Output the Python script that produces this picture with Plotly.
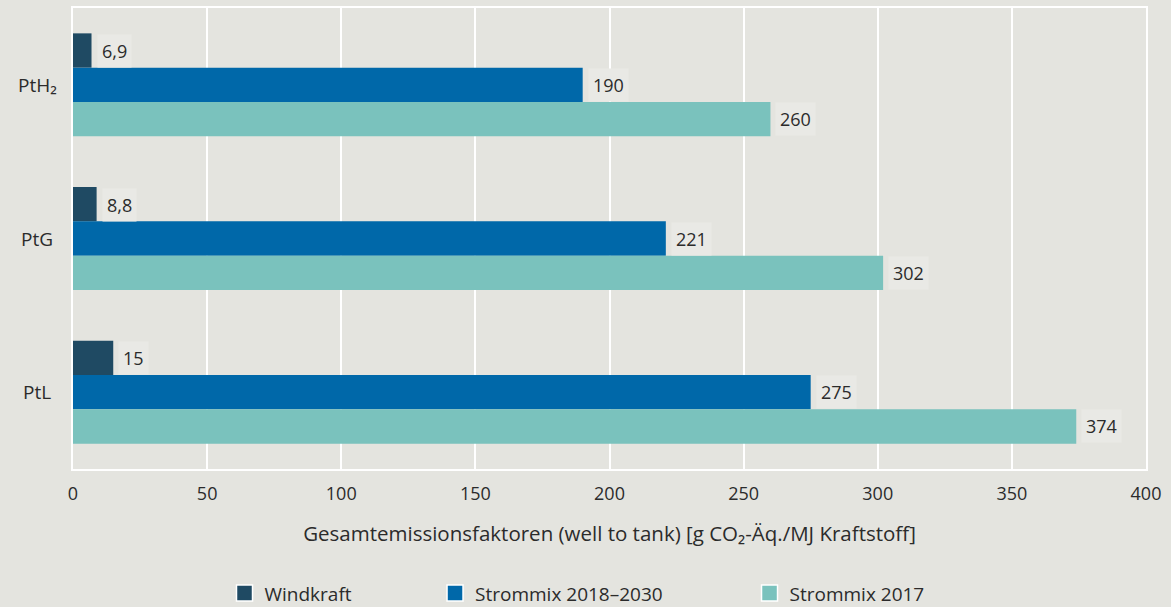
import plotly.graph_objects as go

categories = ["PtH₂", "PtG", "PtL"]
series_names = ["Windkraft", "Strommix 2018–2030", "Strommix 2017"]
windkraft = [6.9, 8.8, 15]
strommix_2018_2030 = [190, 221, 275]
strommix_2017 = [260, 302, 374]
x_ticks = [0, 50, 100, 150, 200, 250, 300, 350, 400]

series_values = [windkraft, strommix_2018_2030, strommix_2017]
colors = ["#1f4a63", "#0068a9", "#7ac2bd"]
BG = "#e4e4df"
FONT = "Open Sans, Noto Sans, sans-serif"
TXT = "#2b2b2b"

PLOT_W = 1171 - 73 - 25
PLOT_H = 607 - 9 - 138

fig = go.Figure()
legend_ids = ["legend", "legend2", "legend3"]
legend_x = [0.1412, 0.3374, 0.6305]
for name, vals, col, lid in zip(series_names, series_values, colors, legend_ids):
    fig.add_trace(go.Bar(
        y=categories, x=vals, orientation="h", name=name,
        marker=dict(color=col, line=dict(width=0)),
        showlegend=False, hoverinfo="x+y",
    ))
    fig.add_trace(go.Scatter(
        x=[None], y=[None], mode="markers", name=name, legend=lid,
        marker=dict(symbol="square", size=20, color=col,
                    line=dict(color="white", width=1.5)),
        showlegend=True,
    ))

def fmt(v):
    return f"{v:g}".replace(".", ",")

bar_px = 34
shifts = [bar_px, 0, -bar_px]
for vals, ys in zip(series_values, shifts):
    for cat, v in zip(categories, vals):
        fig.add_annotation(
            x=v, y=cat, xref="x", yref="y", text=fmt(v),
            showarrow=False, xanchor="left", yanchor="middle",
            xshift=5, yshift=ys,
            bgcolor="#e9e9e5", borderpad=4,
            font=dict(family=FONT, size=18, color=TXT),
        )

# centered category labels
for cat in categories:
    fig.add_annotation(
        x=-36 / PLOT_W, y=cat, xref="paper", yref="y", text=cat,
        showarrow=False, xanchor="center", yanchor="middle",
        font=dict(family=FONT, size=19, color=TXT),
    )

legend_common = dict(orientation="h", y=-(593 - 469) / PLOT_H, yanchor="middle", xanchor="left",
                     font=dict(family=FONT, size=19, color=TXT),
                     bgcolor="rgba(0,0,0,0)", itemclick=False, itemdoubleclick=False)

fig.update_layout(
    width=1171, height=607,
    margin=dict(l=73, r=25, t=8, b=138, autoexpand=False),
    paper_bgcolor=BG, plot_bgcolor=BG,
    barmode="group", bargap=0.33, bargroupgap=0,
    font=dict(family=FONT, size=18, color=TXT),
    legend=dict(x=legend_x[0], **legend_common),
    legend2=dict(x=legend_x[1], **legend_common),
    legend3=dict(x=legend_x[2], **legend_common),
    xaxis=dict(range=[0, 400], tickvals=x_ticks, ticktext=[str(t) for t in x_ticks],
               showgrid=True, gridcolor="white", gridwidth=2,
               zeroline=False, showline=True, linecolor="white", linewidth=2, mirror=True,
               ticks="", ticklabelstandoff=7, tickfont=dict(size=18),
               title=dict(text="Gesamtemissionsfaktoren (well to tank) [g CO₂-Äq./MJ Kraftstoff]",
                          font=dict(family=FONT, size=20.5, color=TXT), standoff=23)),
    yaxis=dict(autorange="reversed", showgrid=False, showline=True, linecolor="white",
               linewidth=2, mirror=True, ticks="", showticklabels=False),
)

fig.write_html("out.html", config={"displayModeBar": False},
               post_script="document.body.style.margin='0';")
